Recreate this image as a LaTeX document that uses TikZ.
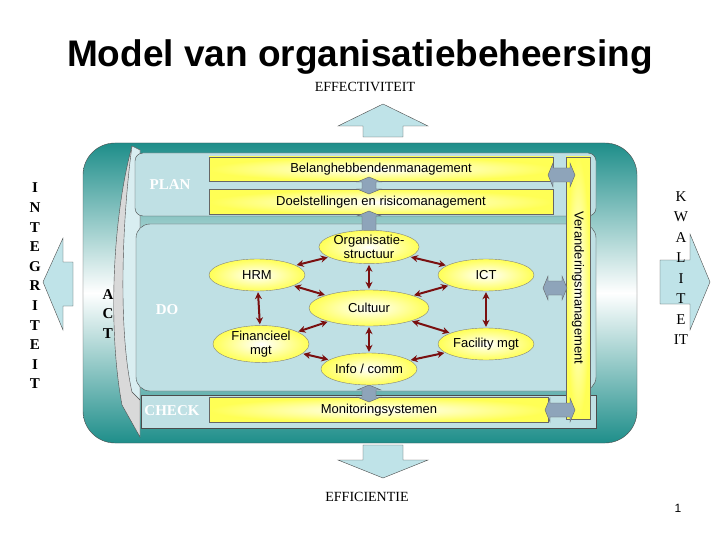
\documentclass[tikz,border=0pt]{standalone}
\usepackage{fontspec}
\setmainfont{Liberation Serif}
\newfontfamily\arial{Liberation Sans}
\usetikzlibrary{shapes.geometric,arrows.meta}
\definecolor{teal1}{HTML}{1E8E8A}
\definecolor{band}{HTML}{BFE0E4}
\definecolor{boxy}{HTML}{FFFF55}
\definecolor{arrowgrey}{HTML}{8EA4BA}
\definecolor{darkred}{HTML}{7A1010}
\definecolor{pale}{HTML}{BFE3E8}
\tikzset{
  bar/.style={draw=black!60, inner color=white, outer color=boxy, shading=radial, font=\arial\fontsize{13}{13}\selectfont},
  oval/.style={ellipse, draw=black!50, inner color=white, outer color=boxy, minimum width=96pt, minimum height=32pt, inner sep=0pt, align=center, font=\arial\fontsize{13}{14}\selectfont},
  link/.style={darkred, line width=2pt, {Stealth[length=7pt,width=7pt]}-{Stealth[length=7pt,width=7pt]}, shorten <=1pt, shorten >=1pt},
  blk/.style={draw=black!60, fill=arrowgrey},
  phase/.style={text=white, font=\bfseries\fontsize{15}{15}\selectfont},
  letters/.style={align=center, font=\bfseries\fontsize{15}{19.6}\selectfont},
}
% vertical / horizontal block double arrows
\newcommand{\vdbl}[3]{\draw[blk] (#1,#2) -- (#1+12,#2+5) -- (#1+7,#2+5) -- (#1+7,#3-5) -- (#1+12,#3-5) -- (#1,#3) -- (#1-12,#3-5) -- (#1-7,#3-5) -- (#1-7,#2+5) -- (#1-12,#2+5) -- cycle;}
\newcommand{\hdbl}[3]{\draw[blk] (#2,#1) -- (#2+5,#1-12) -- (#2+5,#1-7) -- (#3-5,#1-7) -- (#3-5,#1-12) -- (#3,#1) -- (#3-5,#1+12) -- (#3-5,#1+7) -- (#2+5,#1+7) -- (#2+5,#1+12) -- cycle;}
\begin{document}
\begin{tikzpicture}[x=1pt,y=-1pt]
\useasboundingbox (0,0) rectangle (720,540);
\fill[white] (0,0) rectangle (720,540);

% titles
\node[font=\arial\bfseries\fontsize{37}{37}\selectfont] (title) at (360,57) {Model van organisatiebeheersing};
\node[font=\fontsize{14}{14}\selectfont] (eff) at (365,87) {EFFECTIVITEIT};
\node[font=\fontsize{14}{14}\selectfont] (effi) at (367,497) {EFFICIENTIE};
\node[font=\arial\fontsize{12}{12}\selectfont] (page) at (678,508) {1};

% outer arrows
\draw[black!70, fill=pale] (383,104) -- (428,126) -- (403,126) -- (403,137) -- (363,137) -- (363,126) -- (338,126) -- cycle;
\draw[black!70, fill=pale] (383,478) -- (428,460) -- (403,460) -- (403,445) -- (363,445) -- (363,460) -- (338,460) -- cycle;
\draw[black!70, fill=pale] (43,282) -- (63,238) -- (63,262) -- (73,262) -- (73,306) -- (63,306) -- (63,330) -- cycle;
\draw[black!70, fill=pale] (710,282) -- (690,234) -- (690,260) -- (660,260) -- (660,304) -- (690,304) -- (690,330) -- cycle;

% outer frame
\draw[black!70, rounded corners=32pt, top color=teal1, bottom color=teal1, middle color=white] (83,143) rectangle (637,443);
\draw[black!70, fill=gray!30] (132,146) .. controls (112,220) and (108,330) .. (122,405) -- (140,437) -- (140,150) -- cycle;
\draw[black!70, fill=pale!60!white] (132,146) .. controls (122,220) and (118,330) .. (132,392) -- (140,400) -- (140,150) -- cycle;

% bands
\draw[black!70, fill=band, rounded corners=8pt] (135,153) rectangle (596,216);
\draw[black!70, fill=band, rounded corners=14pt] (136,224) rectangle (596,391);
\draw[black!70, fill=band] (141,395) rectangle (596,428);

\node[phase] (plan) at (170,185) {PLAN};
\node[phase] (do) at (167,310) {DO};
\node[phase] (check) at (172,411) {CHECK};

% side letters
\node[letters] (integ) at (35,286) {I\\N\\T\\E\\G\\R\\I\\T\\E\\I\\T};
\node[letters] (act) at (108,314) {A\\C\\T};
\node[letters, font=\fontsize{15}{20.5}\selectfont] (kwal) at (681,268) {K\\W\\A\\L\\I\\T\\E\\IT};

% bars
\node[bar, minimum width=344pt, minimum height=24pt] (belang) at (381,169) {Belanghebbendenmanagement};
\node[bar, minimum width=344pt, minimum height=25pt] (doel) at (381,202) {Doelstellingen en risicomanagement};
\node[bar, minimum width=339pt, minimum height=25pt] (monitor) at (379,410) {Monitoringsystemen};
\node[bar, minimum width=262pt, minimum height=24pt, rotate=-90] (verand) at (578,288) {Veranderingsmanagement};

% block arrows
\vdbl{369}{177}{194}
\vdbl{369}{211}{236}
\vdbl{369}{385}{402}
\hdbl{175}{548}{575}
\hdbl{288}{543}{567}
\hdbl{410}{545}{575}

% ovals
\node[oval] (org) at (369,247) {Organisatie-\\structuur};
\node[oval] (hrm) at (257,275) {HRM};
\node[oval] (ict) at (486,275) {ICT};
\node[oval, minimum width=120pt, minimum height=36pt] (cult) at (369,308) {Cultuur};
\node[oval, minimum height=34pt] (fin) at (261,344) {Financieel\\mgt};
\node[oval] (fac) at (486,344) {Facility mgt};
\node[oval] (info) at (369,369) {Info / comm};

\draw[link] (org) -- (hrm);
\draw[link] (org) -- (ict);
\draw[link] (org) -- (cult);
\draw[link] (hrm) -- (cult);
\draw[link] (ict) -- (cult);
\draw[link] (hrm) -- (fin);
\draw[link] (ict) -- (fac);
\draw[link] (cult) -- (fin);
\draw[link] (cult) -- (fac);
\draw[link] (cult) -- (info);
\draw[link] (fin) -- (info);
\draw[link] (fac) -- (info);
\end{tikzpicture}
\end{document}
